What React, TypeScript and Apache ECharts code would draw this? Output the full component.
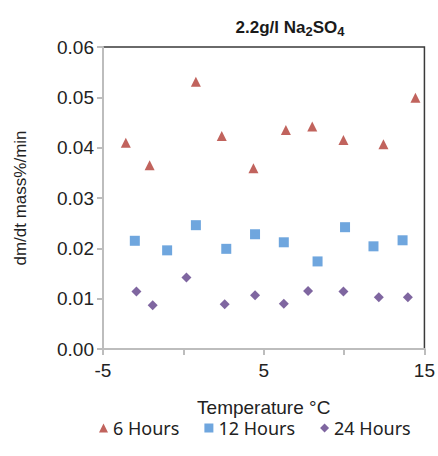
import React, { useEffect, useRef } from "react";
import * as echarts from "echarts";

const temps6 = [-3.58, -2.1, 0.78, 2.39, 4.36, 6.38, 8.02, 9.96, 12.45, 14.44];
const rate6 = [0.041, 0.0365, 0.0531, 0.0423, 0.0359, 0.0435, 0.0442, 0.0415, 0.0407, 0.0499];

const temps12 = [-3.02, -1.01, 0.78, 2.67, 4.46, 6.25, 8.35, 10.06, 11.83, 13.64];
const rate12 = [0.0215, 0.0196, 0.0246, 0.0199, 0.0228, 0.0212, 0.0174, 0.0242, 0.0204, 0.0216];

const temps24 = [-2.92, -1.91, 0.19, 2.57, 4.46, 6.25, 7.76, 9.96, 12.16, 13.97];
const rate24 = [0.0114, 0.0087, 0.0142, 0.0089, 0.0107, 0.009, 0.0115, 0.0114, 0.0103, 0.0103];

const seriesNames = ["6 Hours", "12 Hours", "24 Hours"];
const xTickLabels = ["-5", "5", "15"];

const zip = (xs: number[], ys: number[]) => xs.map((x, i) => [x, ys[i]]);

export default function App() {
  const ref = useRef<HTMLDivElement>(null);
  useEffect(() => {
    if (!ref.current) return;
    const chart = echarts.init(ref.current, null, { renderer: "svg" });
    const font = "'Liberation Sans', Arial, sans-serif";
    chart.setOption({
      animation: false,
      backgroundColor: "#ffffff",
      grid: {
        left: 103,
        right: 11,
        top: 47,
        bottom: 107,
        show: true,
        borderColor: "#3a3a3a",
        borderWidth: 1.5,
      },
      graphic: [
        {
          type: "text",
          x: 290,
          y: 27,
          style: {
            text: "2.2g/l Na{s|2}SO{s|4}",
            align: "center",
            verticalAlign: "middle",
            font: `bold 17px ${font}`,
            fill: "#1a1a1a",
            rich: {
              s: { font: `bold 13px ${font}`, fill: "#1a1a1a", padding: [9, 0, 0, 0] },
            },
          },
        },
      ],
      legend: {
        data: [
          { name: seriesNames[0], icon: "triangle" },
          { name: seriesNames[1], icon: "rect" },
          { name: seriesNames[2], icon: "diamond" },
        ],
        left: 94,
        top: 414,
        itemWidth: 9,
        itemHeight: 9,
        itemGap: 25,
        textStyle: { fontFamily: "'Noto Sans', 'Open Sans', sans-serif", fontSize: 18, color: "#222" },
      },
      xAxis: {
        type: "value",
        min: -5,
        max: 15,
        interval: 5,
        name: "Temperature °C",
        nameLocation: "middle",
        nameGap: 49,
        nameTextStyle: { fontFamily: font, fontSize: 19, color: "#222" },
        axisLine: { show: true, onZero: false, lineStyle: { color: "#bdbdbd", width: 2 } },
        axisTick: { show: true, inside: false, length: 6, lineStyle: { color: "#bdbdbd", width: 2 } },
        splitLine: { show: false },
        axisLabel: {
          margin: 12,
          fontFamily: font,
          fontSize: 19,
          color: "#222",
          formatter: (v: number) => (xTickLabels.includes(String(v)) ? String(v) : ""),
        },
      },
      yAxis: {
        type: "value",
        min: 0,
        max: 0.06,
        interval: 0.01,
        name: "dm/dt mass%/min",
        nameLocation: "middle",
        nameGap: 74,
        nameRotate: 90,
        nameTextStyle: { fontFamily: font, fontSize: 17, color: "#222" },
        axisLine: { show: true, onZero: false, lineStyle: { color: "#bdbdbd", width: 2 } },
        axisTick: { show: true, inside: false, length: 6, lineStyle: { color: "#bdbdbd", width: 2 } },
        splitLine: { show: false },
        axisLabel: {
          margin: 9,
          fontFamily: font,
          fontSize: 19,
          color: "#222",
          formatter: (v: number) => v.toFixed(2),
        },
      },
      series: [
        {
          name: seriesNames[0],
          type: "scatter",
          symbol: "triangle",
          symbolSize: 10,
          itemStyle: { color: "#b23c35" },
          data: zip(temps6, rate6),
        },
        {
          name: seriesNames[1],
          type: "scatter",
          symbol: "rect",
          symbolSize: 10,
          itemStyle: { color: "#4b90d6" },
          data: zip(temps12, rate12),
        },
        {
          name: seriesNames[2],
          type: "scatter",
          symbol: "diamond",
          symbolSize: 10,
          itemStyle: { color: "#5f4088" },
          data: zip(temps24, rate24),
        },
      ],
    });
    return () => chart.dispose();
  }, []);
  return (
    <div
      ref={ref}
      style={{ position: "fixed", left: 0, top: 0, width: 438, height: 456 }}
    />
  );
}
